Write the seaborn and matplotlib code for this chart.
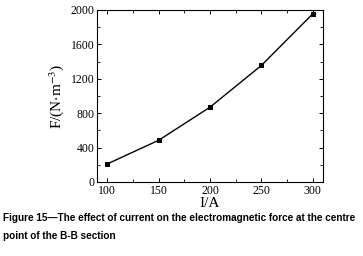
import matplotlib
matplotlib.use('Agg')
import matplotlib.pyplot as plt
import seaborn as sns
import pandas as pd
from matplotlib.ticker import AutoMinorLocator

# datos
corriente = [100, 150, 200, 250, 300]
fuerza = [210, 485, 870, 1355, 1955]

df = pd.DataFrame({"I": corriente, "F": fuerza})

sns.set_theme(style="ticks", rc={'text.color': 'black', 'axes.labelcolor': 'black',
                                 'xtick.color': 'black', 'ytick.color': 'black'})
plt.rcParams['font.family'] = ['Liberation Serif', 'DejaVu Serif']
plt.rcParams['mathtext.fontset'] = 'stix'

fig = plt.figure(figsize=(3.63, 2.56), dpi=100)
ax = fig.add_axes([97 / 363, 1 - 182 / 256, 226 / 363, 172 / 256])

sns.lineplot(data=df, x="I", y="F", ax=ax, color='black', lw=1.0,
             marker='s', markersize=3.5, markeredgecolor='black')

ax.set_xlim(90, 310)
ax.set_ylim(0, 2000)
ax.set_xticks([100, 150, 200, 250, 300])
ax.set_yticks([0, 400, 800, 1200, 1600, 2000])
ax.xaxis.set_minor_locator(AutoMinorLocator(2))
ax.yaxis.set_minor_locator(AutoMinorLocator(2))
ax.tick_params(which='both', direction='in', top=True, right=True, labelsize=8.5, pad=2)
ax.tick_params(which='major', length=3, width=0.7)
ax.tick_params(which='minor', length=2, width=0.6)
for s in ax.spines.values():
    s.set_linewidth(0.8)
    s.set_color('black')

ax.set_xlabel('I/A', fontsize=11, labelpad=0)
ax.set_ylabel(r'F/(N$\cdot$m$^{-3}$)', fontsize=11, labelpad=3)

fig.text(0.008, 1 - 218 / 256, 'Figure 15—The effect of current on the electromagnetic force at the centre',
         fontsize=7.2, fontweight='bold', family=['Liberation Sans', 'DejaVu Sans'], va='center')
fig.text(0.008, 1 - 236 / 256, 'point of the B-B section',
         fontsize=7.2, fontweight='bold', family=['Liberation Sans', 'DejaVu Sans'], va='center')

fig.savefig('out.png', dpi=100)
